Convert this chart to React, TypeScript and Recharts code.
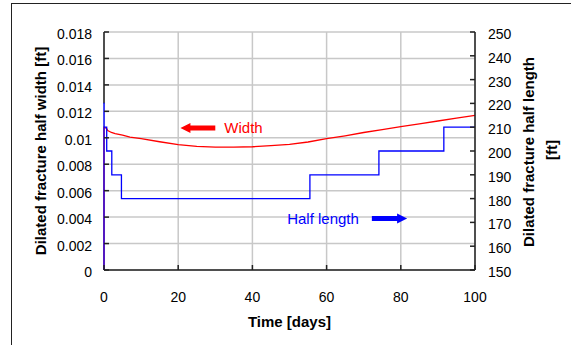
import { ComposedChart, Line, XAxis, YAxis, CartesianGrid, ReferenceLine } from 'recharts'

const FONT = '"Liberation Sans", Arial, sans-serif'

// axis ticks
const timeTicks = [0, 20, 40, 60, 80, 100]
const widthTicks = [0, 0.002, 0.004, 0.006, 0.008, 0.01, 0.012, 0.014, 0.016, 0.018]
const lengthTicks = [150, 160, 170, 180, 190, 200, 210, 220, 230, 240, 250]

// dilated fracture half width [ft] vs time [days]
const widthDays = [0, 0, 0.7, 1, 2, 3, 5, 7, 10, 15, 20, 25, 30, 35, 40, 45, 50, 55, 60, 65, 70, 75, 80, 85, 90, 95, 100]
const widthValues = [
  0, 0.0108, 0.0107, 0.01055, 0.0104, 0.01032, 0.0102, 0.01005, 0.00993, 0.0097, 0.00948, 0.00935, 0.0093, 0.0093,
  0.00932, 0.0094, 0.0095, 0.00968, 0.00993, 0.01015, 0.0104, 0.01062, 0.01084, 0.01105, 0.01127, 0.01148, 0.0117,
]

// dilated fracture half length [ft], stepped
const lengthDays = [0, 0, 0.02, 0.73, 2.1, 4.7, 55.5, 74.1, 91.6, 100]
const lengthValues = [150, 220, 210, 200, 190, 180, 190, 200, 210, 210]

const widthData = widthDays.map((t, i) => ({ t, w: widthValues[i] }))
const lengthData = lengthDays.map((t, i) => ({ t, l: lengthValues[i] }))

const WIDTH_MAX = widthTicks[widthTicks.length - 1]
const LENGTH_MIN = lengthTicks[0]
const LENGTH_MAX = lengthTicks[lengthTicks.length - 1]
// the left spine only shows above the initial half-length spike; below it the curves sit on x = 0
const spikeTop = ((Math.max(...lengthValues) - LENGTH_MIN) / (LENGTH_MAX - LENGTH_MIN)) * WIDTH_MAX

const TICK_IN = 5

function LeftTick({ x, y, payload }: any) {
  return (
    <g>
      <line x1={x + 12} x2={x + 12 + TICK_IN} y1={y} y2={y} stroke="#222" strokeWidth={1.5} />
      <text x={x} y={y + 7} textAnchor="end" fontSize={14} fill="#000" fontFamily={FONT}>
        {String(payload.value)}
      </text>
    </g>
  )
}

function RightTick({ x, y, payload }: any) {
  return (
    <g>
      <line x1={x - 13} x2={x - 13 - TICK_IN} y1={y} y2={y} stroke="#222" strokeWidth={1.5} />
      <text x={x} y={y + 7} textAnchor="start" fontSize={14} fill="#000" fontFamily={FONT}>
        {payload.value}
      </text>
    </g>
  )
}

function BottomTick({ x, y, payload }: any) {
  return (
    <g>
      <line x1={x} x2={x} y1={y - 20} y2={y - 20 - TICK_IN} stroke="#222" strokeWidth={1.5} />
      <text x={x} y={y + 12} textAnchor="middle" fontSize={14} fill="#000" fontFamily={FONT}>
        {payload.value}
      </text>
    </g>
  )
}

function rotated(cx: number, cy: number, text: string, key?: string) {
  return (
    <text
      key={key}
      x={cx}
      y={cy}
      transform={`rotate(-90 ${cx} ${cy})`}
      textAnchor="middle"
      dominantBaseline="central"
      fontSize={15}
      fontWeight="bold"
      fill="#000"
      fontFamily={FONT}
    >
      {text}
    </text>
  )
}

// filled block arrow from (x1,y1) to tip (x2,y1), caption beside the tail
function arrowShape(caption: string, color: string, gap: number) {
  return (props: any) => {
    const { x1, y1, x2 } = props
    const dir = x2 > x1 ? 1 : -1
    const neck = x2 - dir * 10
    const pts = [
      [x1, y1 - 2.5],
      [neck, y1 - 2.5],
      [neck, y1 - 5],
      [x2, y1],
      [neck, y1 + 5],
      [neck, y1 + 2.5],
      [x1, y1 + 2.5],
    ]
    return (
      <g>
        <polygon points={pts.map((p) => p.join(',')).join(' ')} fill={color} />
        <text
          x={x1 - dir * gap}
          y={y1 + 5.5}
          textAnchor={dir < 0 ? 'start' : 'end'}
          fontSize={15}
          fill={color}
          fontFamily={FONT}
        >
          {caption}
        </text>
      </g>
    )
  }
}

export default function App() {
  return (
    <div style={{ position: 'absolute', left: 0, top: 0, width: 571, height: 345, background: '#fff' }}>
      <div
        style={{
          position: 'absolute',
          left: 11,
          top: 3,
          right: 0,
          bottom: 0,
          borderLeft: '1.5px solid #222',
          borderTop: '1.5px solid #222',
        }}
      />
      <ComposedChart
        width={571}
        height={345}
        margin={{ top: 32, right: 0, bottom: 0, left: 0 }}
        style={{ position: 'absolute', left: 0, top: 0, fontFamily: FONT }}
      >
        <CartesianGrid yAxisId="left" stroke="#c8c8c8" strokeWidth={1.5} />
        <XAxis
          dataKey="t"
          type="number"
          domain={[0, 100]}
          ticks={timeTicks}
          height={75}
          tickSize={0}
          tickMargin={20}
          tickLine={false}
          tick={<BottomTick />}
          axisLine={{ stroke: '#222', strokeWidth: 1.5 }}
          label={(p: any) => {
            const vb = p.viewBox
            return (
              <text
                x={vb.x + vb.width / 2}
                y={327}
                textAnchor="middle"
                fontSize={15}
                fontWeight="bold"
                fill="#000"
                fontFamily={FONT}
              >
                Time [days]
              </text>
            )
          }}
        />
        <YAxis
          yAxisId="left"
          orientation="left"
          type="number"
          domain={[0, WIDTH_MAX]}
          ticks={widthTicks}
          width={104}
          tickSize={0}
          tickMargin={12}
          tickLine={false}
          tick={<LeftTick />}
          axisLine={false}
          label={(p: any) => rotated(40, p.viewBox.y + p.viewBox.height / 2, 'Dilated fracture half width [ft]')}
        />
        <YAxis
          yAxisId="right"
          orientation="right"
          type="number"
          domain={[LENGTH_MIN, LENGTH_MAX]}
          ticks={lengthTicks}
          width={96}
          tickSize={0}
          tickMargin={13}
          tickLine={false}
          tick={<RightTick />}
          axisLine={{ stroke: '#222', strokeWidth: 1.5 }}
          label={(p: any) => (
            <g>
              {rotated(528, p.viewBox.y + p.viewBox.height / 2 + 1, 'Dilated fracture half length', 'a')}
              {rotated(551, p.viewBox.y + p.viewBox.height / 2 - 1, '[ft]', 'b')}
            </g>
          )}
        />
        <ReferenceLine
          yAxisId="left"
          segment={[
            { x: 0, y: spikeTop },
            { x: 0, y: WIDTH_MAX },
          ]}
          stroke="#222"
          strokeWidth={1.5}
        />
        <Line
          yAxisId="left"
          data={widthData}
          dataKey="w"
          type="linear"
          stroke="#ff0000"
          strokeWidth={1.3}
          dot={false}
          isAnimationActive={false}
        />
        <Line
          yAxisId="right"
          data={lengthData}
          dataKey="l"
          type="stepAfter"
          stroke="#0000ff"
          strokeWidth={1.3}
          dot={false}
          isAnimationActive={false}
        />
        <ReferenceLine
          yAxisId="left"
          segment={[
            { x: 30, y: 0.01074 },
            { x: 20.6, y: 0.01074 },
          ]}
          shape={arrowShape('Width', '#ff0000', 9)}
        />
        <ReferenceLine
          yAxisId="right"
          segment={[
            { x: 72.2, y: 171.6 },
            { x: 81.7, y: 171.6 },
          ]}
          shape={arrowShape('Half length', '#0000ff', 13)}
        />
      </ComposedChart>
    </div>
  )
}
